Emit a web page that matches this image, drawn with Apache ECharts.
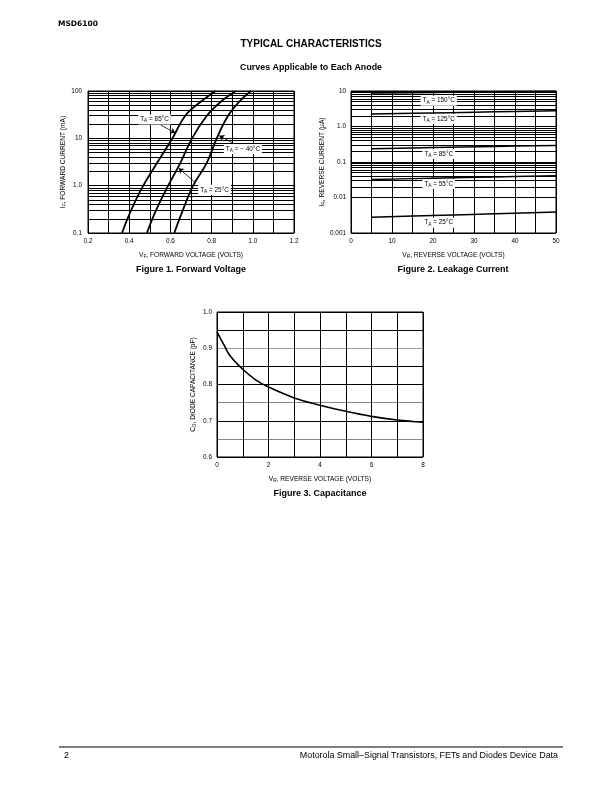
<!DOCTYPE html>
<html>
<head>
<meta charset="utf-8">
<script src="https://cdn.jsdelivr.net/npm/echarts@6/dist/echarts.min.js"></script>
<style>
html, body { margin: 0; padding: 0; background: #fff; }
#main { width: 612px; height: 792px; }
</style>
</head>
<body>
<div id="main"></div>
<script>
// Figure 1: forward current (mA) and the forward voltage read for each temperature
const fwdCurrent = [0.1, 0.3, 1, 3, 10, 30, 60, 100]
const fwdV85 = [0.365, 0.409, 0.468, 0.535, 0.61, 0.672, 0.749, 0.82]
const fwdV25 = [0.486, 0.530, 0.589, 0.648, 0.705, 0.777, 0.846, 0.918]
const fwdVm40 = [0.619, 0.660, 0.710, 0.776, 0.825, 0.880, 0.935, 0.991]
const fwdYTicks = ['0.1', '1.0', '10', '100']

// Figure 2: reverse current (uA) vs reverse voltage
const revVoltage = [5, 20, 35, 50]
const rev150 = [8.8, 9.1, 9.5, 9.8]
const rev125 = [2.25, 2.4, 2.6, 2.8]
const rev85 = [0.235, 0.255, 0.275, 0.29]
const rev55 = [0.032, 0.035, 0.038, 0.041]
const rev25 = [0.0028, 0.0031, 0.0035, 0.0039]
const revYTicks = ['0.001', '0.01', '0.1', '1.0', '10']

// Figure 3: diode capacitance (pF) vs reverse voltage
const capVoltage = [0, 0.25, 0.5, 1, 1.5, 2, 3, 4, 5, 6, 7, 8]
const capValue = [0.945, 0.912, 0.88, 0.842, 0.813, 0.793, 0.763, 0.743, 0.726, 0.712, 0.702, 0.696]

// curve labels: [text, x, y] in data units, and their leader arrows
const fwdLabels = [['T{s|A} = 85°C', 0.523, 25.1], ['T{s|A} = − 40°C', 0.952, 5.98], ['T{s|A} = 25°C', 0.814, 0.818]]
const fwdArrows = [[[0.554, 18.9], [0.624, 13.0]], [[0.902, 8.0], [0.837, 11.4]], [[0.724, 1.13], [0.640, 2.34]]]
const revLabels = [['T{s|A} = 150°C', 21.4, 5.33], ['T{s|A} = 125°C', 21.4, 1.63], ['T{s|A} = 85°C', 21.4, 0.168],
    ['T{s|A} = 55°C', 21.4, 0.024], ['T{s|A} = 25°C', 21.4, 0.00195]]

const font = 'Liberation Sans, Arial, sans-serif'
const rich = { s: { fontSize: 4.8, fontFamily: font, color: '#000', padding: [3, 0, 0, 0] } }

function zip(xs, ys) {
    return xs.map((x, i) => [x, ys[i]])
}
function logMinors(lo, hi) {
    let out = []
    for (let d = lo; d < hi; d++)
        for (let m = 2; m <= 9; m++) out.push(m * Math.pow(10, d))
    return out
}
function curve(idx, data, width) {
    return {
        type: 'line', xAxisIndex: idx, yAxisIndex: idx, data: data,
        showSymbol: false, smooth: 0.4, z: 3, animation: false,
        lineStyle: { color: '#000', width: width || 1.8 },
    }
}
function gridLines(idx, values) {
    return {
        type: 'line', xAxisIndex: idx, yAxisIndex: idx, data: [], z: 1,
        markLine: {
            silent: true, symbol: 'none', animation: false, label: { show: false },
            lineStyle: { color: '#000', width: 1, type: 'solid' },
            data: values.map(v => ({ yAxis: v })),
        },
    }
}
function labels(idx, items, arrows) {
    return {
        type: 'line', xAxisIndex: idx, yAxisIndex: idx, data: [], z: 5,
        markPoint: {
            silent: true, animation: false, symbol: 'rect', symbolSize: 1,
            itemStyle: { color: 'rgba(0,0,0,0)' },
            label: {
                show: true, position: 'inside', color: '#000', fontSize: 6.4, fontFamily: font,
                backgroundColor: '#fff', padding: [1, 2], rich: rich,
            },
            data: items.map(t => ({ coord: [t[1], t[2]], label: { formatter: t[0] } })),
        },
        markLine: arrows ? {
            silent: true, animation: false, symbol: ['none', 'arrow'], symbolSize: 5,
            label: { show: false }, lineStyle: { color: '#000', width: 0.8, type: 'solid' },
            data: arrows.map(a => [{ coord: a[0] }, { coord: a[1] }]),
        } : undefined,
    }
}
function xAxis(idx, min, max, interval, name, fmt) {
    return {
        gridIndex: idx, type: 'value', min: min, max: max, interval: interval,
        axisLine: { show: false }, axisTick: { show: false },
        splitLine: { show: true, lineStyle: { color: '#000', width: 1 } },
        axisLabel: { fontSize: 6.4, color: '#000', fontFamily: font, margin: 5, formatter: fmt },
        name: name, nameLocation: 'middle', nameGap: 18,
        nameTextStyle: { fontSize: 6.6, color: '#000', fontFamily: font, rich: rich },
    }
}
function text(x, y, str, fnt, align) {
    return { type: 'text', x: x, y: y, style: { text: str, font: fnt, fill: '#000', align: align || 'center', verticalAlign: 'middle' } }
}

const option = {
    backgroundColor: '#fff',
    animation: false,
    grid: [
        { left: 88, top: 91, width: 206, height: 142, show: true, borderColor: '#000', borderWidth: 1 },
        { left: 351, top: 91, width: 205, height: 142, show: true, borderColor: '#000', borderWidth: 1 },
        { left: 217, top: 312, width: 206, height: 145, show: true, borderColor: '#000', borderWidth: 1 },
    ],
    xAxis: [
        xAxis(0, 0.2, 1.2, 0.1, 'V{s|F}, FORWARD VOLTAGE (VOLTS)',
            v => Math.round(v * 10) % 2 === 0 ? v.toFixed(1) : ''),
        xAxis(1, 0, 50, 5, 'V{s|R}, REVERSE VOLTAGE (VOLTS)',
            v => Math.round(v) % 10 === 0 ? String(Math.round(v)) : ''),
        xAxis(2, 0, 8, 1, 'V{s|R}, REVERSE VOLTAGE (VOLTS)',
            v => Math.round(v) % 2 === 0 ? String(Math.round(v)) : ''),
    ],
    yAxis: [
        {
            gridIndex: 0, type: 'log', logBase: 10, min: 0.1, max: 100,
            axisLine: { show: false }, axisTick: { show: false },
            splitLine: { show: true, lineStyle: { color: '#000', width: 1 } },
            axisLabel: { fontSize: 6.4, color: '#000', fontFamily: font, margin: 6,
                formatter: v => fwdYTicks[Math.round(Math.log10(v)) + 1] },
            name: 'I{s|F}, FORWARD CURRENT (mA)', nameLocation: 'middle', nameGap: 20,
            nameTextStyle: { fontSize: 6.6, color: '#000', fontFamily: font, rich: rich },
        },
        {
            gridIndex: 1, type: 'log', logBase: 10, min: 0.001, max: 10,
            axisLine: { show: false }, axisTick: { show: false },
            splitLine: { show: true, lineStyle: { color: '#000', width: 1 } },
            axisLabel: { fontSize: 6.4, color: '#000', fontFamily: font, margin: 5,
                formatter: v => revYTicks[Math.round(Math.log10(v)) + 3] },
            name: 'I{s|R}, REVERSE CURRENT (μA)', nameLocation: 'middle', nameGap: 22,
            nameTextStyle: { fontSize: 6.6, color: '#000', fontFamily: font, rich: rich },
        },
        {
            gridIndex: 2, type: 'value', min: 0.6, max: 1.0, interval: 0.05,
            axisLine: { show: false }, axisTick: { show: false },
            splitLine: { show: true, lineStyle: { width: 1,
                color: ['#000', '#888', '#000', '#888', '#000', '#000', '#999', '#000', '#000'] } },
            axisLabel: { fontSize: 6.4, color: '#000', fontFamily: font, margin: 5,
                formatter: v => Math.round(v * 100) % 10 === 0 ? v.toFixed(1) : '' },
            name: 'C{s|D}, DIODE CAPACITANCE (pF)', nameLocation: 'middle', nameGap: 20,
            nameTextStyle: { fontSize: 6.6, color: '#000', fontFamily: font, rich: rich },
        },
    ],
    series: [
        gridLines(0, logMinors(-1, 2)),
        curve(0, zip(fwdV85, fwdCurrent)),
        curve(0, zip(fwdV25, fwdCurrent)),
        curve(0, zip(fwdVm40, fwdCurrent)),
        labels(0, fwdLabels, fwdArrows),

        gridLines(1, logMinors(-3, 1)),
        curve(1, zip(revVoltage, rev150), 1.5),
        curve(1, zip(revVoltage, rev125), 1.5),
        curve(1, zip(revVoltage, rev85), 1.5),
        curve(1, zip(revVoltage, rev55), 1.5),
        curve(1, zip(revVoltage, rev25), 1.5),
        labels(1, revLabels),

        curve(2, zip(capVoltage, capValue), 1.6),
    ],
    graphic: [
        text(58, 24, 'MSD6100', '900 7.5px DejaVu Sans', 'left'),
        text(311, 44, 'TYPICAL CHARACTERISTICS', 'bold 10px ' + font),
        text(311, 68, 'Curves Applicable to Each Anode', 'bold 8.9px ' + font),
        text(191, 270, 'Figure 1. Forward Voltage', 'bold 9px ' + font),
        text(453, 270, 'Figure 2. Leakage Current', 'bold 9px ' + font),
        text(320, 494, 'Figure 3. Capacitance', 'bold 9px ' + font),
        { type: 'line', shape: { x1: 59, y1: 747, x2: 563, y2: 747 }, style: { stroke: '#000', lineWidth: 1 } },
        text(64, 756, '2', '8.9px ' + font, 'left'),
        text(558, 756, 'Motorola Small–Signal Transistors, FETs and Diodes Device Data', '8.9px ' + font, 'right'),
    ],
}

echarts.init(document.getElementById('main')).setOption(option)
</script>
</body>
</html>
